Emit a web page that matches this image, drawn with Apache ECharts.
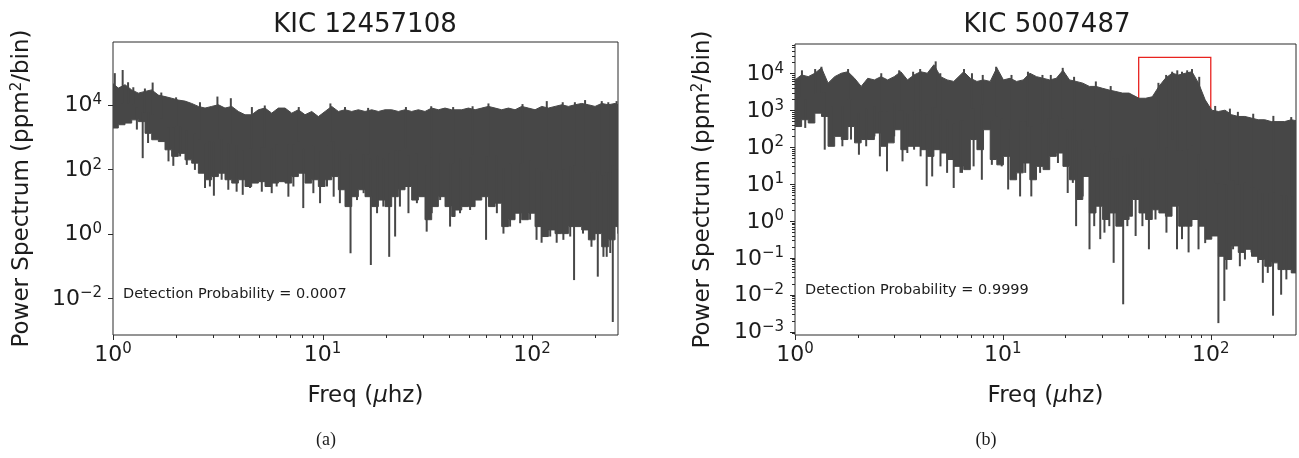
<!DOCTYPE html>
<html><head><meta charset="utf-8">
<script src="https://cdn.jsdelivr.net/npm/echarts@6/dist/echarts.min.js"></script>
<style>html,body{margin:0;padding:0;background:#fff}#c{width:1299px;height:458px}</style>
</head><body><div id="c"></div>
<script>
// ---------- Panel (a): KIC 12457108 ----------
const freqA = [1.00, 1.06, 1.141, 1.228, 1.321, 1.422, 1.53, 1.646, 1.771, 1.905, 2.05, 2.206, 2.374, 2.555, 2.749, 2.958, 3.183, 3.424, 3.686, 3.965, 4.267, 4.591, 4.94, 5.315, 5.72, 6.154,
  6.622, 7.125, 7.667, 8.25, 8.877, 9.55, 10.28, 11.06, 11.9, 12.8, 13.78, 14.82, 15.95, 17.16, 18.47, 19.87, 21.38, 23.0, 24.75, 26.63, 28.66, 30.83, 33.18, 35.7, 38.41, 41.33,
  42.9, 46.16, 49.67, 53.45, 57.5, 61.9, 66.6, 71.6, 77.1, 82.9, 89.2, 96.0, 103.3, 111.2, 119.6, 128.7, 138.5, 149.0, 160.3, 172.5, 185.6, 199.7, 214.9, 231.2, 248.8, 257];
const hiA = [4.5e4, 3.3e4, 4.2e4, 2.9e4, 2.3e4, 2.6e4, 2.9e4, 2.0e4, 1.8e4, 1.6e4, 1.4e4, 1.3e4, 1.1e4, 8.9e3, 7.9e3, 8.9e3, 1.0e4, 7.9e3, 8.9e3, 6.2e3, 4.9e3, 4.9e3, 7.0e3, 7.9e3, 5.5e3, 7.9e3,
  7.9e3, 5.5e3, 7.0e3, 4.9e3, 6.2e3, 4.3e3, 6.2e3, 8.9e3, 6.2e3, 7.0e3, 6.2e3, 7.0e3, 6.2e3, 7.0e3, 6.2e3, 7.0e3, 7.0e3, 6.2e3, 7.0e3, 6.2e3, 7.0e3, 6.2e3, 7.9e3, 7.0e3, 7.9e3, 7.0e3,
  7.0e3, 7.0e3, 7.9e3, 7.0e3, 7.9e3, 8.9e3, 7.9e3, 7.0e3, 7.9e3, 7.0e3, 8.9e3, 7.9e3, 7.0e3, 8.9e3, 7.9e3, 8.9e3, 1.0e4, 8.9e3, 1.0e4, 1.1e4, 1.0e4, 8.9e3, 1.1e4, 1.0e4, 1.1e4, 1.0e4];
const loA = [1.9e3, 2.4e3, 2.7e3, 3.4e3, 3.0e3, 1.3e3, 820, 720, 400, 250, 310, 195, 154, 75, 47, 59, 75, 47, 37, 47, 29, 37, 41, 29, 37, 41,
  37, 59, 75, 37, 47, 29, 47, 59, 23, 6.9, 14, 23, 14, 6.9, 11, 6.9, 14, 23, 29, 11, 14, 2.7, 6.9, 14, 6.9, 3.4,
  5.4, 6.9, 6.9, 11, 14, 6.9, 8.8, 1.65, 2.7, 4.3, 2.7, 4.3, 1.65, 0.81, 1.3, 1.0, 1.0, 1.65, 1.65, 1.3, 0.64, 1.0, 0.39, 0.64, 1.65, 1.0];
const spikesA = [
  // upward excursions
  [1.02, 9.6e4], [1.112, 1.2e5], [1.18, 5.0e4], [1.25, 3.5e4], [1.42, 3.2e4], [1.546, 4.9e4], [1.7, 2.4e4], [2.0, 1.7e4], [2.6, 1.2e4], [3.15, 1.8e4], [3.65, 1.6e4],
  [4.6, 8.5e3], [5.3, 9.5e3], [7.7, 8.5e3], [10.9, 1.1e4], [12.8, 8.5e3], [16.5, 8.0e3], [25, 8.5e3], [33, 9.0e3], [42, 8.5e3], [52, 9.0e3], [61.9, 1.1e4],
  [90, 1.05e4], [117.5, 1.3e4], [140, 1.2e4], [160, 1.2e4], [179, 1.4e4], [215, 1.3e4], [231, 1.2e4], [253, 1.3e4],
  // downward excursions
  [1.30, 1.7e3], [1.386, 220], [1.47, 650], [1.84, 175], [1.94, 127], [2.09, 250], [2.25, 136], [2.46, 95], [2.749, 26], [2.90, 29], [3.03, 15], [3.30, 47], [3.55, 23],
  [3.89, 20], [4.16, 16], [4.51, 26], [5.13, 20], [5.72, 18], [6.04, 29], [6.87, 14], [7.26, 29], [8.09, 6.2], [9.04, 18], [9.73, 8.8], [10.5, 29], [11.3, 14], [12.1, 8.8],
  [13.6, 0.245], [14.6, 11], [15.7, 18], [17.0, 0.106], [18.2, 4.3], [19.5, 6.9], [20.8, 0.19], [22.2, 0.81], [23.4, 6.9], [25.7, 4.3], [28.2, 8.8], [31.4, 1.15], [33.2, 4.3],
  [36.4, 11], [40.6, 1.65], [45.3, 4.3], [50.6, 5.4], [60.3, 0.64], [67.9, 4.3], [73, 1.0], [78.5, 1.65], [87.7, 2.1], [97.8, 2.7], [105, 0.64], [111, 0.52], [122, 0.81],
  [131, 0.52], [141, 0.64], [152, 0.81], [158.6, 0.036], [175, 1.0], [192, 0.39], [205.8, 0.046], [219, 0.19], [227, 0.19], [236, 0.25], [242.7, 0.0018]];

// ---------- Panel (b): KIC 5007487 ----------
const freqB = [1.0, 1.076, 1.158, 1.246, 1.341, 1.442, 1.552, 1.67, 1.797, 1.934, 2.081, 2.239, 2.409, 2.592, 2.789, 3.001, 3.229, 3.475, 3.739, 4.023, 4.329, 4.658, 5.012, 5.393, 5.803,
  6.48, 6.97, 7.5, 8.07, 8.69, 9.35, 10.06, 10.82, 11.64, 12.53, 13.48, 14.51, 15.61, 16.8, 18.07, 19.45, 20.92, 22.51, 24.23, 26.07, 28.05, 30.18, 32.48, 34.95, 37.6, 40.46,
  41.97, 45.16, 48.6, 52.3, 56.3, 60.5, 65.1, 70.1, 75.4, 81.2, 87.3, 94.0, 101.1, 108.8, 117.1, 126.0, 135.6, 145.9, 157.0, 169.0, 181.8, 195.6, 210.5, 226.5, 243.8, 257];
const hiB = [6.6e3, 9.0e3, 8.1e3, 1.0e4, 1.4e4, 5.4e3, 8.1e3, 1.0e4, 1.1e4, 7.3e3, 4.4e3, 7.3e3, 6.6e3, 8.1e3, 6.6e3, 8.1e3, 1.1e4, 6.6e3, 9.0e3, 1.1e4, 1.0e4, 1.7e4, 8.1e3, 6.6e3, 6.0e3,
  1.1e4, 7.3e3, 6.0e3, 6.6e3, 6.0e3, 1.4e4, 6.6e3, 7.3e3, 6.0e3, 6.6e3, 1.0e4, 8.1e3, 7.3e3, 6.6e3, 7.3e3, 1.2e4, 6.6e3, 6.0e3, 5.4e3, 4.4e3, 4.4e3, 3.9e3, 3.5e3, 3.2e3, 2.9e3, 2.9e3,
  2.6e3, 2.1e3, 2.1e3, 2.3e3, 4.4e3, 7.3e3, 1.0e4, 9.0e3, 1.0e4, 1.1e4, 5.4e3, 1.9e3, 1.0e3, 920, 1.0e3, 750, 675, 675, 610, 550, 550, 490, 490, 490, 550, 520];
const loB = [360, 550, 450, 830, 675, 105, 195, 160, 360, 130, 160, 160, 240, 105, 130, 295, 85, 105, 105, 85, 56, 85, 69, 46, 30,
  24.5, 160, 85, 295, 46, 33, 56, 13, 20, 37, 13, 30, 24.5, 56, 69, 30, 13, 3.8, 16, 1.64, 2.5, 1.09, 1.64, 0.72, 1.09, 1.34,
  3.8, 1.64, 1.09, 2.0, 1.64, 1.34, 2.5, 0.72, 0.72, 1.09, 0.72, 0.32, 0.39, 0.11, 0.09, 0.21, 0.14, 0.17, 0.11, 0.09, 0.059, 0.073, 0.048, 0.048, 0.039, 0.045];
const spikesB = [
  // upward excursions
  [1.08, 1.2e4], [1.25, 1.3e4], [1.34, 1.5e4], [1.8, 1.3e4], [2.6, 1.0e4], [3.17, 1.2e4], [3.7, 1.1e4], [4.0, 1.3e4], [4.75, 2.1e4], [5.0, 1.0e4], [6.5, 1.3e4], [7.1, 1.0e4],
  [8.0, 9.0e3], [9.28, 1.5e4], [11, 9.0e3], [13.2, 1.1e4], [15.5, 9.0e3], [17, 9.0e3], [19.4, 1.4e4], [22, 8.0e3], [28, 6.0e3], [33, 4.5e3], [56, 5.5e3], [61, 9.0e3],
  [65.2, 1.1e4], [69, 1.2e4], [72.7, 1.1e4], [77, 1.2e4], [81.2, 1.3e4], [88, 8.0e3], [105, 1.3e3], [123.6, 1.1e3], [135, 900], [160, 800], [200, 700], [243.8, 650],
  // downward excursions
  [1.04, 360], [1.12, 330], [1.39, 85], [1.50, 130], [1.69, 105], [1.86, 160], [2.03, 62], [2.20, 105], [2.41, 195], [2.56, 56], [2.77, 22], [3.0, 195], [3.29, 41], [3.47, 69],
  [3.74, 85], [4.02, 56], [4.30, 8.7], [4.57, 16], [5.01, 30], [5.39, 20], [5.80, 7.8], [6.25, 20], [6.36, 20], [7.23, 30], [7.92, 13], [8.85, 33], [9.87, 30], [10.6, 7.1],
  [12.1, 4.6], [12.8, 20], [13.7, 4.6], [15.1, 20], [16.5, 30], [18.4, 37], [20.5, 5.7], [21.7, 10.7], [22.5, 0.72], [24.2, 4.6], [26.1, 0.17], [27.5, 0.72], [29.4, 0.32],
  [30.8, 0.48], [32.5, 0.72], [34.1, 0.073], [35.6, 1.64], [37.9, 0.0055], [39.7, 0.72], [41.2, 2.5], [43.5, 0.39], [46.9, 0.72], [50.4, 0.17], [54.2, 1.09], [61.2, 0.48],
  [68.8, 0.17], [72.7, 0.32], [78.2, 0.14], [87.3, 0.17], [94.0, 0.25], [108.8, 0.0017], [116.2, 0.0068], [119, 0.048], [128, 0.17], [138, 0.059], [146, 0.09], [157, 0.14],
  [169, 0.073], [178, 0.021], [188, 0.039], [199.3, 0.0027], [218, 0.010], [231, 0.026], [248, 0.039]];
const boxB = [[45, 860], [100, 27000]];

// ---------- texts & axes ----------
const titles = ['KIC 12457108', 'KIC 5007487'];
const notes = ['Detection Probability = 0.0007', 'Detection Probability = 0.9999'];
const tags = ['(a)', '(b)'];
const xRange = [1, 257];
const yRangeA = [7.1e-4, 8.9e5];
const yRangeB = [8.1e-4, 6.2e4];
const xMajor = [1, 10, 100];
const xMinor = [2, 3, 4, 5, 6, 7, 8, 9, 20, 30, 40, 50, 60, 70, 80, 90, 200];
const yMajorA = [0.01, 1, 100, 10000];
const yMajorB = [0.001, 0.01, 0.1, 1, 10, 100, 1000, 10000];
const minorMult = [2, 3, 4, 5, 6, 7, 8, 9];
const yMinorB = [];
[-4, -3, -2, -1, 0, 1, 2, 3, 4].forEach(e => minorMult.forEach(m => {
  const v = m * Math.pow(10, e);
  if (v > yRangeB[0] && v < yRangeB[1]) yMinorB.push(v);
}));

const INK = '#474747', AXIS = '#2a2a2a', TXT = '#1c1c1c';
const FONT = '"DejaVu Sans", sans-serif';
const TICKFS = 22, SUPFS = 15, NAMEFS = 23;

function powLabel(v) {
  const e = Math.log10(v), r = Math.round(e);
  if (Math.abs(e - r) > 1e-6) return '';
  return '{b|10}{s|' + (r < 0 ? '\u2212' + (-r) : String(r)) + '}';
}
const RICH = {
  b: { fontSize: TICKFS, fontFamily: FONT, color: TXT, lineHeight: 24, verticalAlign: 'bottom' },
  s: { fontSize: SUPFS, fontFamily: FONT, color: TXT, lineHeight: 16, padding: [0, 0, 12, 0], verticalAlign: 'top' }
};

const grids = [
  { left: 113, top: 42, width: 505, height: 293 },
  { left: 795, top: 44, width: 505, height: 291 }
].map(g => Object.assign(g, { show: true, borderColor: AXIS, borderWidth: 1, backgroundColor: 'transparent', containLabel: false }));

function xAxisCfg(gi) {
  return {
    type: 'log', gridIndex: gi, min: xRange[0], max: xRange[1], logBase: 10,
    name: 'Freq ({i|\u03bc}hz)', nameLocation: 'middle', nameGap: 50,
    nameTextStyle: { fontSize: NAMEFS, fontFamily: FONT, color: TXT,
      rich: { i: { fontStyle: 'italic', fontSize: NAMEFS, fontFamily: FONT, color: TXT } } },
    axisLine: { show: false }, axisTick: { show: false }, splitLine: { show: false },
    axisLabel: { formatter: powLabel, margin: 7, rich: RICH, color: TXT }
  };
}
function yAxisCfg(gi, range, base) {
  return {
    type: 'log', gridIndex: gi, min: range[0], max: range[1], logBase: base,
    name: 'Power Spectrum (ppm{s|2}/bin)', nameLocation: 'middle', nameGap: gi === 0 ? 79 : 80,
    nameTextStyle: { fontSize: NAMEFS, fontFamily: FONT, color: TXT, lineHeight: 24,
      rich: { s: { fontSize: SUPFS, fontFamily: FONT, color: TXT, lineHeight: 15, padding: [0, 0, 9, 0], verticalAlign: 'top' } } },
    axisLine: { show: false }, axisTick: { show: false }, splitLine: { show: false },
    axisLabel: { formatter: powLabel, margin: 11, rich: RICH, color: TXT }
  };
}

function bodySeries(gi, freq, hi, lo) {
  return {
    type: 'custom', xAxisIndex: gi, yAxisIndex: gi, clip: true, silent: true, z: 2,
    data: [[freq[0], hi[0]]],
    renderItem: (params, api) => {
      const n = freq.length;
      const pts = freq.map((f, i) => api.coord([f, hi[i]]));
      for (let i = n - 1; i >= 0; i--) {
        const fR = i < n - 1 ? freq[i + 1] : freq[i];
        pts.push(api.coord([fR, lo[i]]));
        pts.push(api.coord([freq[i], lo[i]]));
      }
      return { type: 'polygon', shape: { points: pts }, style: { fill: INK, stroke: INK, lineWidth: 1 } };
    }
  };
}
function spikeSeries(gi, spikes, freq, hi, lo) {
  return {
    type: 'custom', xAxisIndex: gi, yAxisIndex: gi, clip: true, silent: true, z: 3,
    data: spikes,
    renderItem: (params, api) => {
      const f = api.value(0), v = api.value(1);
      let best = 0, bd = Infinity;
      freq.forEach((g, i) => { const d = Math.abs(Math.log(g / f)); if (d < bd) { bd = d; best = i; } });
      const mid = Math.sqrt(hi[best] * lo[best]);
      const p1 = api.coord([f, v]), p2 = api.coord([f, mid]);
      return { type: 'line', shape: { x1: p1[0], y1: p1[1], x2: p2[0], y2: p2[1] },
        style: { stroke: INK, lineWidth: 2 } };
    }
  };
}
function xTickSeries(gi, vals, yMin, len) {
  return {
    type: 'custom', xAxisIndex: gi, yAxisIndex: gi, clip: false, silent: true, z: 5,
    data: vals.map(v => [v, yMin]),
    renderItem: (params, api) => {
      const c = api.coord([api.value(0), api.value(1)]);
      const x = Math.round(c[0]) + 0.5;
      return { type: 'line', shape: { x1: x, y1: c[1], x2: x, y2: c[1] + len }, style: { stroke: AXIS, lineWidth: 1 } };
    }
  };
}
function yTickSeries(gi, vals, xMin, len) {
  return {
    type: 'custom', xAxisIndex: gi, yAxisIndex: gi, clip: false, silent: true, z: 5,
    data: vals.map(v => [xMin, v]),
    renderItem: (params, api) => {
      const c = api.coord([api.value(0), api.value(1)]);
      const y = Math.round(c[1]) + 0.5;
      return { type: 'line', shape: { x1: c[0], y1: y, x2: c[0] - len, y2: y }, style: { stroke: AXIS, lineWidth: 1 } };
    }
  };
}

function txt(x, y, text, size, family, align) {
  return { type: 'text', x: x, y: y, silent: true, z: 10,
    style: { text: text, fontSize: size, fontFamily: family, fill: TXT,
      textAlign: align, align: align, textVerticalAlign: 'middle', verticalAlign: 'middle' } };
}

const option = {
  animation: false,
  backgroundColor: '#ffffff',
  grid: grids,
  xAxis: [xAxisCfg(0), xAxisCfg(1)],
  yAxis: [yAxisCfg(0, yRangeA, 100), yAxisCfg(1, yRangeB, 10)],
  series: [
    bodySeries(0, freqA, hiA, loA),
    spikeSeries(0, spikesA, freqA, hiA, loA),
    bodySeries(1, freqB, hiB, loB),
    spikeSeries(1, spikesB, freqB, hiB, loB),
    {
      type: 'line', xAxisIndex: 1, yAxisIndex: 1, data: [], silent: true, z: 6,
      markArea: { silent: true, itemStyle: { color: 'rgba(0,0,0,0)', borderColor: '#e8231f', borderWidth: 1.3 },
        data: [[{ coord: boxB[0] }, { coord: boxB[1] }]] }
    },
    xTickSeries(0, xMajor, yRangeA[0], 5),
    xTickSeries(0, xMinor, yRangeA[0], 3),
    yTickSeries(0, yMajorA, xRange[0], 5),
    xTickSeries(1, xMajor, yRangeB[0], 5),
    xTickSeries(1, xMinor, yRangeB[0], 3),
    yTickSeries(1, yMajorB, xRange[0], 5),
    yTickSeries(1, yMinorB, xRange[0], 3)
  ],
  graphic: [
    txt(365, 25, titles[0], 26, FONT, 'center'),
    txt(1047, 25, titles[1], 26, FONT, 'center'),
    txt(123, 294, notes[0], 14.5, FONT, 'left'),
    txt(805, 290, notes[1], 14.5, FONT, 'left'),
    txt(326, 440, tags[0], 18, '"Liberation Serif", "DejaVu Serif", serif', 'center'),
    txt(986, 440, tags[1], 18, '"Liberation Serif", "DejaVu Serif", serif', 'center')
  ]
};
const chart = echarts.init(document.getElementById('c'), null, { renderer: 'canvas' });
chart.setOption(option);
</script>
</body></html>
